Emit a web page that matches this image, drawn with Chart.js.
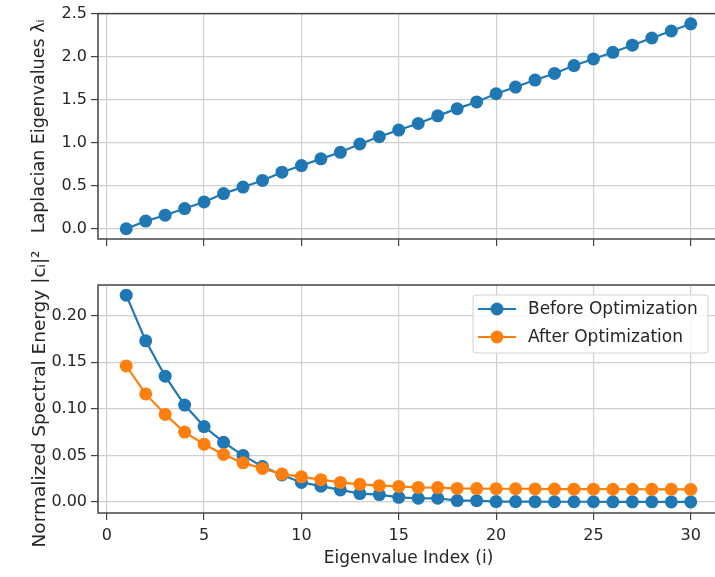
<!DOCTYPE html>
<html>
<head>
<meta charset="utf-8">
<script src="https://cdn.jsdelivr.net/npm/chart.js@4.4.1/dist/chart.umd.min.js"></script>
<style>
  html, body { margin: 0; padding: 0; background: #fff; overflow: hidden; width: 715px; height: 577px; }
  #top { position: absolute; left: 0; top: 0; }
  #bottom { position: absolute; left: 0; top: 220px; }
</style>
</head>
<body>
<canvas id="top" width="740" height="260"></canvas>
<canvas id="bottom" width="740" height="357"></canvas>
<script>
const idx = [1,2,3,4,5,6,7,8,9,10,11,12,13,14,15,16,17,18,19,20,21,22,23,24,25,26,27,28,29,30];
const eigenvalues = [0.000, 0.089, 0.158, 0.235, 0.312, 0.409, 0.485, 0.562, 0.658, 0.735,
                     0.813, 0.889, 0.986, 1.070, 1.148, 1.224, 1.313, 1.397, 1.475, 1.570,
                     1.648, 1.729, 1.806, 1.898, 1.975, 2.052, 2.135, 2.218, 2.300, 2.383];
const before = [0.222, 0.173, 0.135, 0.104, 0.081, 0.064, 0.050, 0.038, 0.029, 0.021,
                0.017, 0.013, 0.009, 0.008, 0.005, 0.004, 0.004, 0.0015, 0.0014, 0.0005,
                0.0005, 0.0004, 0.0003, 0.0003, 0.0003, 0.0002, 0.0002, 0.0002, 0.0001, 0.0001];
const after = [0.146, 0.116, 0.094, 0.075, 0.062, 0.051, 0.042, 0.036, 0.030, 0.027,
               0.024, 0.021, 0.019, 0.0175, 0.0167, 0.0157, 0.0155, 0.0146, 0.0144, 0.0142,
               0.0142, 0.0140, 0.0139, 0.0138, 0.0138, 0.0137, 0.0137, 0.0136, 0.0136, 0.0135];
const xTicks = [0, 5, 10, 15, 20, 25, 30];
const topYTicks = [0, 0.5, 1.0, 1.5, 2.0, 2.5];
const bottomYTicks = [0, 0.05, 0.10, 0.15, 0.20];

const BLUE = '#1f77b4', ORANGE = '#ff7f0e';
const FONT = 'DejaVu Sans';
const TXT = '#262626';

const pts = (ys) => idx.map((x, i) => ({ x: x, y: ys[i] }));

// matplotlib style box round the axes
const frame = {
  id: 'frame',
  afterDatasetsDraw(chart) {
    const a = chart.chartArea, ctx = chart.ctx;
    ctx.save();
    ctx.strokeStyle = '#444';
    ctx.lineWidth = 1.5;
    ctx.strokeRect(a.left, a.top, a.right - a.left, a.bottom - a.top);
    ctx.restore();
  }
};

const legendBox = {
  id: 'legendBox',
  afterDraw(chart) {
    const ctx = chart.ctx, a = chart.chartArea;
    const w = 235, h = 58;
    const x = a.right - 11 - w, y = a.top + 10;
    ctx.save();
    ctx.beginPath();
    ctx.roundRect(x, y, w, h, 3);
    ctx.fillStyle = 'rgba(255,255,255,0.85)';
    ctx.fill();
    ctx.strokeStyle = '#d0d0d0';
    ctx.lineWidth = 1;
    ctx.stroke();
    chart.data.datasets.forEach((ds, i) => {
      const cy = y + 14 + i * 28;
      ctx.strokeStyle = ds.borderColor;
      ctx.lineWidth = 2.2;
      ctx.beginPath();
      ctx.moveTo(x + 5, cy);
      ctx.lineTo(x + 43, cy);
      ctx.stroke();
      ctx.fillStyle = ds.backgroundColor;
      ctx.beginPath();
      ctx.arc(x + 24, cy, 6.5, 0, Math.PI * 2);
      ctx.fill();
      ctx.fillStyle = TXT;
      ctx.font = '17px "' + FONT + '"';
      ctx.textBaseline = 'middle';
      ctx.fillText(ds.label, x + 55, cy + 1);
    });
    ctx.restore();
  }
};

function xScale(showLabels, height, withTitle) {
  return {
    type: 'linear',
    min: -0.45,
    max: 31.45,
    afterBuildTicks: (s) => { s.ticks = xTicks.map(v => ({ value: v })); },
    afterFit: (s) => { s.height = height; },
    border: { display: false },
    grid: { color: '#d0d0d0', lineWidth: 1.2, tickLength: 7, tickColor: '#444', tickWidth: 1.2 },
    ticks: {
      color: showLabels ? TXT : 'rgba(0,0,0,0)',
      font: { family: FONT, size: 16 },
      padding: 6,
      maxRotation: 0
    },
    title: {
      display: withTitle,
      text: 'Eigenvalue Index (i)',
      color: TXT,
      font: { family: FONT, size: 17 },
      padding: { top: 0, bottom: 8 }
    }
  };
}

function yScale(min, max, ticks, digits, label, size) {
  return {
    type: 'linear',
    min: min,
    max: max,
    afterBuildTicks: (s) => { s.ticks = ticks.map(v => ({ value: v })); },
    afterFit: (s) => { s.width = 98; },
    border: { display: false },
    grid: { color: '#d0d0d0', lineWidth: 1.2, tickLength: 7, tickColor: '#444', tickWidth: 1.2 },
    ticks: {
      color: TXT,
      font: { family: FONT, size: 16 },
      padding: 4,
      callback: (v) => Number(v).toFixed(digits)
    },
    title: {
      display: true,
      text: label,
      color: TXT,
      font: { family: FONT, size: size },
      padding: { top: 29, bottom: 0 }
    }
  };
}

function lineSet(label, ys, color, order) {
  return {
    label: label,
    data: pts(ys),
    borderColor: color,
    backgroundColor: color,
    borderWidth: 2.2,
    pointRadius: 6.5,
    pointHoverRadius: 6.5,
    pointBorderWidth: 0,
    tension: 0,
    order: order
  };
}

new Chart(document.getElementById('top'), {
  type: 'line',
  data: { datasets: [lineSet('Eigenvalues', eigenvalues, BLUE, 0)] },
  options: {
    responsive: false,
    animation: false,
    layout: { autoPadding: false, padding: { top: 12, right: 21, left: 0, bottom: 0 } },
    plugins: { legend: { display: false }, tooltip: { enabled: false } },
    scales: {
      x: xScale(false, 21, false),
      y: yScale(-0.119, 2.502, topYTicks, 1, 'Laplacian Eigenvalues λᵢ', 17.5)
    }
  },
  plugins: [frame]
});

// bottom canvas starts higher (overlapping the top one) so the long y title is not clipped
new Chart(document.getElementById('bottom'), {
  type: 'line',
  data: {
    datasets: [
      lineSet('Before Optimization', before, BLUE, 1),
      lineSet('After Optimization', after, ORANGE, 0)
    ]
  },
  options: {
    responsive: false,
    animation: false,
    layout: { autoPadding: false, padding: { top: 65, right: 21, left: 0, bottom: 0 } },
    plugins: { legend: { display: false }, tooltip: { enabled: false } },
    scales: {
      x: xScale(true, 64, true),
      y: yScale(-0.0118, 0.2329, bottomYTicks, 2, 'Normalized Spectral Energy |cᵢ|²', 18.5)
    }
  },
  plugins: [frame, legendBox]
});
</script>
</body>
</html>
